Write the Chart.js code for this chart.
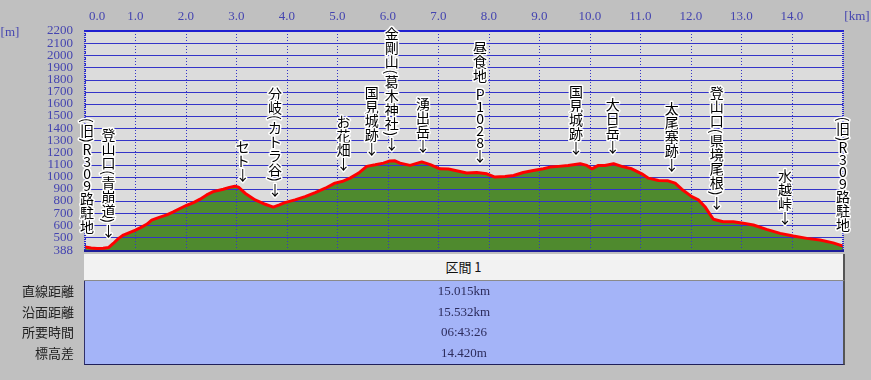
<!DOCTYPE html>
<html><head><meta charset="utf-8">
<script src="https://cdn.jsdelivr.net/npm/chart.js@4.4.1/dist/chart.umd.min.js"></script>
<style>
html,body{margin:0;padding:0;background:#c0c0c0;}
#wrap{position:relative;width:871px;height:380px;overflow:hidden;background:#c0c0c0;}
#c{position:absolute;left:0;top:0;}
#hdr{position:absolute;left:84px;top:254px;width:759px;height:26px;background:#f2f2f2;border-bottom:1px solid #8a8a8a;border-right:2px solid #555;
 font:13px "Noto Sans CJK JP";color:#111;text-align:center;line-height:26px;}
#body{position:absolute;left:84px;top:281px;width:758px;height:83px;background:#a4b4f8;border-left:1px solid #30306a;border-bottom:1px solid #20205a;border-right:2px solid #555;}
.val{position:absolute;left:0;width:100%;text-align:center;font:13px "Liberation Serif";color:#2c2c5c;height:20.7px;line-height:20.7px;}
.lab{position:absolute;right:797px;text-align:right;font:13px "Noto Sans CJK JP";color:#222;height:20.7px;line-height:20.7px;white-space:nowrap;}
</style></head><body>
<div id="wrap">
<canvas id="c" width="871" height="380"></canvas>
<div id="hdr"></div>
<div id="body"></div>
<div id="labs"></div>
</div>
<script>
// ---- data ----
const distKm = [0.00,0.12,0.24,0.36,0.47,0.56,0.66,0.76,0.88,1.00,1.12,1.23,1.32,1.47,1.62,1.75,1.89,2.02,2.15,2.28,2.41,2.54,2.74,2.86,2.97,3.04,3.17,3.37,3.57,3.73,3.85,3.96,4.16,4.36,4.56,4.76,4.95,5.09,5.25,5.42,5.58,5.75,5.91,6.04,6.14,6.24,6.44,6.67,6.84,7.03,7.20,7.36,7.56,7.76,7.96,8.12,8.32,8.49,8.68,8.88,9.08,9.21,9.38,9.57,9.81,9.94,10.04,10.17,10.30,10.47,10.63,10.83,11.03,11.16,11.36,11.55,11.69,11.82,12.02,12.15,12.28,12.38,12.45,12.64,12.84,13.04,13.24,13.50,13.77,14.03,14.30,14.56,14.82,15.015];
const elevM = [422,412,409,410,417,450,490,519,540,560,585,610,643,665,685,710,740,765,786,815,850,877,897,912,922,914,864,809,773,750,768,786,809,836,869,905,947,960,988,1030,1085,1098,1112,1130,1131,1112,1093,1122,1099,1065,1063,1049,1030,1035,1024,997,1002,1010,1035,1051,1065,1079,1085,1093,1107,1093,1065,1093,1093,1107,1085,1065,1024,988,969,966,947,897,836,809,753,690,649,629,629,616,602,566,533,511,492,478,455,428];
const xTicks = [0,1,2,3,4,5,6,7,8,9,10,11,12,13,14];
const yTicks = [388,500,600,700,800,900,1000,1100,1200,1300,1400,1500,1600,1700,1800,1900,2000,2100,2200];
const wpNames = ['(旧)R309路駐地','登山口(青崩道)','セト','分岐(カトラ谷)','お花畑','国見城跡','金剛山(葛木神社)','湧出岳','昼食地 P1028','国見城跡','大日岳','太尾塞跡','登山口(県境尾根)','水越峠','(旧)R309路駐地'];
const wpKm = [0.04,0.465,3.127,3.766,5.119,5.681,6.077,6.697,7.826,9.727,10.453,11.622,12.513,13.865,15.015];
const wpArrow = [false,true,true,true,true,true,true,true,true,true,true,true,true,true,false];
const sectionTitle = '区間 1';
const statLabels = ['直線距離','沿面距離','所要時間','標高差'];
const statValues = ['15.015km','15.532km','06:43:26','14.420m'];
const totalKm = 15.015;

// ---- table ----
document.getElementById('hdr').textContent = sectionTitle;
const body = document.getElementById('body');
const labs = document.getElementById('labs');
statValues.forEach((v,i)=>{
  const d=document.createElement('div'); d.className='val'; d.style.top=(i*20.7)+'px'; d.textContent=v; body.appendChild(d);
  const l=document.createElement('div'); l.className='lab'; l.style.top=(281+i*20.7)+'px'; l.textContent=statLabels[i]; labs.appendChild(l);
});

const pts = distKm.map((k,i)=>({x:k,y:elevM[i]}));
function elevAt(km){
  for(let i=1;i<distKm.length;i++){
    if(km<=distKm[i]){const t=(km-distKm[i-1])/(distKm[i]-distKm[i-1]);return elevM[i-1]+t*(elevM[i]-elevM[i-1]);}
  }
  return elevM[elevM.length-1];
}
const GRID='#3434c8';
const deco = {
  id:'deco',
  beforeDraw(chart){
    const {ctx,chartArea:a}=chart;
    ctx.save();ctx.fillStyle='#dcdcdc';ctx.fillRect(a.left,a.top,a.right-a.left,a.bottom-a.top);ctx.restore();
  },
  afterDatasetDraw(chart,args){
    if(chart.data.datasets[args.index].label!=='terrain')return;
    const {ctx,chartArea:a,scales:{x,y}}=chart;
    ctx.save();
    ctx.strokeStyle=GRID;ctx.lineWidth=1;
    yTicks.forEach(v=>{const py=Math.round(y.getPixelForValue(v))+0.5;ctx.beginPath();ctx.moveTo(a.left,py);ctx.lineTo(a.right,py);ctx.stroke();});
    ctx.setLineDash([1,2]);
    xTicks.forEach(v=>{const px=Math.round(x.getPixelForValue(v))+0.5;ctx.beginPath();ctx.moveTo(px,a.top);ctx.lineTo(px,a.bottom);ctx.stroke();});
    ctx.restore();
  },
  afterDraw(chart){
    const {ctx,chartArea:a,scales:{x,y}}=chart;
    ctx.save();
    // frame
    ctx.strokeStyle='#2020d0';ctx.lineWidth=2;
    ctx.beginPath();ctx.moveTo(a.left-1,a.top);ctx.lineTo(a.right+1,a.top);ctx.stroke();
    ctx.strokeStyle='#1c1c9a';
    ctx.beginPath();ctx.moveTo(a.left-1,a.bottom);ctx.lineTo(a.right+1,a.bottom);ctx.stroke();
    ctx.setLineDash([1,1]);ctx.strokeStyle='#2a2ad0';
    ctx.beginPath();ctx.moveTo(a.left,a.top);ctx.lineTo(a.left,a.bottom);ctx.stroke();
    ctx.beginPath();ctx.moveTo(a.right,a.top);ctx.lineTo(a.right,a.bottom);ctx.stroke();
    ctx.setLineDash([]);
    // x labels
    ctx.fillStyle='#4444b0';ctx.font='13px "Liberation Serif"';ctx.textAlign='center';ctx.textBaseline='middle';
    xTicks.forEach((v,i)=>{ctx.fillText(v.toFixed(1),x.getPixelForValue(v)+(i===0?12:0),17);});
    ctx.fillText('[km]',857,17);
    ctx.fillText('[m]',10,33);
    // waypoint labels
    ctx.font='14px "Noto Sans CJK JP"';
    ctx.lineJoin='round';
    const half=ch=>(ch==='('||ch===')'||ch===' ')?3:(ch.charCodeAt(0)<128?6:7);
    wpNames.forEach((name,i)=>{
      const chars=[...name];
      if(wpArrow[i])chars.push('↓');
      const px=x.getPixelForValue(wpKm[i]);
      const py=y.getPixelForValue(elevAt(wpKm[i]));
      let bottom=py-(wpArrow[i]?10:14);
      let cy=bottom-half(chars[chars.length-1]);
      const pos=[];
      for(let j=chars.length-1;j>=0;j--){
        pos[j]=cy;
        if(j>0)cy-=half(chars[j])+half(chars[j-1]);
      }
      chars.forEach((ch,j)=>{
        if(ch===' ')return;
        ctx.save();ctx.translate(px,pos[j]);
        if(ch==='('||ch===')')ctx.rotate(Math.PI/2);
        ctx.strokeStyle='#fff';ctx.lineWidth=3;ctx.strokeText(ch,0,0);
        ctx.fillStyle='#000';ctx.fillText(ch,0,0);
        ctx.restore();
      });
    });
    ctx.restore();
  }
};

new Chart(document.getElementById('c'),{
  type:'line',
  data:{datasets:[
    {label:'terrain',data:pts,fill:'start',backgroundColor:'#4f8a2e',borderColor:'#ece4a8',borderWidth:1,pointRadius:0,tension:0,order:2},
    {label:'route',data:pts,fill:false,borderColor:'#ff0000',borderWidth:3,pointRadius:0,tension:0,order:1,borderJoinStyle:'round'}
  ]},
  options:{
    responsive:false,animation:false,devicePixelRatio:1,
    layout:{padding:{left:0,top:0,right:28,bottom:129}},
    plugins:{legend:{display:false},tooltip:{enabled:false}},
    scales:{
      x:{type:'linear',position:'top',min:0,max:totalKm,
        afterBuildTicks:s=>{s.ticks=xTicks.map(v=>({value:v}));},
        ticks:{display:false},grid:{display:false,drawTicks:false},border:{display:false},
        afterFit:s=>{s.height=31;}},
      y:{type:'linear',min:388,max:2200,
        afterBuildTicks:s=>{s.ticks=yTicks.map(v=>({value:v}));},
        ticks:{autoSkip:false,padding:12,color:'#4444b0',font:{family:'Liberation Serif',size:13},callback:v=>String(v)},
        grid:{display:false,drawTicks:false},border:{display:false},
        afterFit:s=>{s.width=85;}}
    }
  },
  plugins:[deco]
});
</script>
</body></html>
